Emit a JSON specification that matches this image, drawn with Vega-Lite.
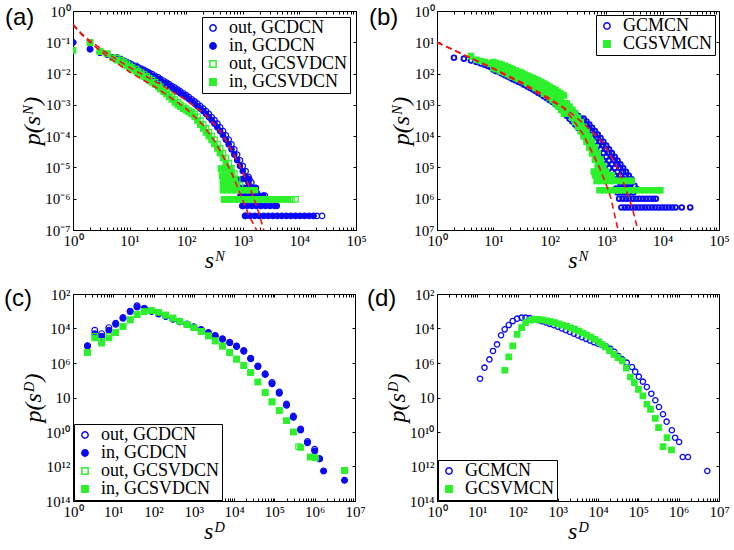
{
"$schema": "https://vega.github.io/schema/vega-lite/v6.json",
"background": "white",
"padding": {"left": 3, "top": 3, "right": 3, "bottom": 3},
"config": {
  "font": "Liberation Serif, Times New Roman, serif",
  "view": {"stroke": "black", "strokeWidth": 1},
  "axis": {"domainColor": "black", "tickColor": "black", "labelColor": "black", "titleColor": "black", "grid": false,
           "labelFont": "Liberation Serif, Times New Roman, serif", "labelFontSize": 15,
           "titleFont": "Liberation Serif, Times New Roman, serif", "titleFontSize": 24,
           "titleFontStyle": "italic", "titleFontWeight": "normal", "tickSize": -3, "labelPadding": 6,
           "labelOverlap": false, "labelFlush": false, "labelBound": false, "titlePadding": 0},
  "title": {"font": "Liberation Sans, Arial, sans-serif", "fontSize": 24, "fontWeight": "normal", "anchor": "start", "frame": "group", "color": "black"},
  "legend": {"title": null, "strokeColor": "black", "fillColor": "white", "padding": 2, "rowPadding": -1,
             "labelFont": "Liberation Serif, Times New Roman, serif", "labelFontSize": 18, "symbolSize": 40, "symbolStrokeWidth": 1.5,
             "labelOffset": 7, "labelLimit": 300, "cornerRadius": 0}
},
"datasets": {
"a": [
{"s":1,"p":0.1,"g":"out, GCDCN"},{"s":2,"p":0.06,"g":"out, GCDCN"},{"s":3,"p":0.047,"g":"out, GCDCN"},{"s":4,"p":0.041,"g":"out, GCDCN"},
{"s":6,"p":3.31e-2,"g":"out, GCDCN"},{"s":7,"p":2.88e-2,"g":"out, GCDCN"},{"s":8,"p":2.57e-2,"g":"out, GCDCN"},{"s":9,"p":2.34e-2,"g":"out, GCDCN"},{"s":10,"p":2.14e-2,"g":"out, GCDCN"},{"s":11,"p":1.95e-2,"g":"out, GCDCN"},{"s":13,"p":1.78e-2,"g":"out, GCDCN"},{"s":14,"p":1.62e-2,"g":"out, GCDCN"},{"s":16,"p":1.45e-2,"g":"out, GCDCN"},{"s":18,"p":1.32e-2,"g":"out, GCDCN"},{"s":20,"p":1.18e-2,"g":"out, GCDCN"},{"s":22,"p":1.07e-2,"g":"out, GCDCN"},{"s":25,"p":9.55e-3,"g":"out, GCDCN"},{"s":28,"p":8.51e-3,"g":"out, GCDCN"},{"s":32,"p":7.59e-3,"g":"out, GCDCN"},{"s":35,"p":6.61e-3,"g":"out, GCDCN"},{"s":40,"p":5.89e-3,"g":"out, GCDCN"},{"s":45,"p":5.13e-3,"g":"out, GCDCN"},{"s":50,"p":4.57e-3,"g":"out, GCDCN"},{"s":56,"p":3.98e-3,"g":"out, GCDCN"},{"s":63,"p":3.55e-3,"g":"out, GCDCN"},{"s":71,"p":3.09e-3,"g":"out, GCDCN"},{"s":79,"p":2.69e-3,"g":"out, GCDCN"},{"s":89,"p":2.34e-3,"g":"out, GCDCN"},{"s":100,"p":2.04e-3,"g":"out, GCDCN"},{"s":112,"p":1.78e-3,"g":"out, GCDCN"},{"s":126,"p":1.51e-3,"g":"out, GCDCN"},{"s":141,"p":1.29e-3,"g":"out, GCDCN"},{"s":158,"p":1.10e-3,"g":"out, GCDCN"},{"s":178,"p":9.12e-4,"g":"out, GCDCN"},{"s":200,"p":7.59e-4,"g":"out, GCDCN"},{"s":224,"p":6.31e-4,"g":"out, GCDCN"},{"s":251,"p":5.13e-4,"g":"out, GCDCN"},{"s":282,"p":4.07e-4,"g":"out, GCDCN"},{"s":316,"p":3.24e-4,"g":"out, GCDCN"},{"s":355,"p":2.51e-4,"g":"out, GCDCN"},{"s":398,"p":1.91e-4,"g":"out, GCDCN"},{"s":447,"p":1.45e-4,"g":"out, GCDCN"},{"s":501,"p":1.07e-4,"g":"out, GCDCN"},{"s":562,"p":7.76e-5,"g":"out, GCDCN"},{"s":631,"p":5.50e-5,"g":"out, GCDCN"},{"s":708,"p":3.80e-5,"g":"out, GCDCN"},{"s":794,"p":2.57e-5,"g":"out, GCDCN"},{"s":891,"p":1.70e-5,"g":"out, GCDCN"},{"s":1000,"p":1.12e-5,"g":"out, GCDCN"},{"s":1122,"p":7.59e-6,"g":"out, GCDCN"},{"s":1259,"p":5.01e-6,"g":"out, GCDCN"},{"s":1413,"p":3.31e-6,"g":"out, GCDCN"},{"s":1585,"p":2.24e-6,"g":"out, GCDCN"},{"s":1778,"p":1.51e-6,"g":"out, GCDCN"},
{"s":980,"p":5.89e-7,"g":"out, GCDCN"},{"s":1096,"p":2.82e-7,"g":"out, GCDCN"},{"s":2455,"p":1.26e-6,"g":"out, GCDCN"},{"s":20417,"p":2.82e-7,"g":"out, GCDCN"},{"s":25119,"p":2.82e-7,"g":"out, GCDCN"},
{"s":1,"p":0.1,"g":"in, GCDCN"},{"s":2,"p":0.06,"g":"in, GCDCN"},{"s":3,"p":0.047,"g":"in, GCDCN"},{"s":4,"p":0.041,"g":"in, GCDCN"},
{"s":5,"p":3.31e-2,"g":"in, GCDCN"},{"s":6,"p":2.88e-2,"g":"in, GCDCN"},{"s":7,"p":2.57e-2,"g":"in, GCDCN"},{"s":8,"p":2.34e-2,"g":"in, GCDCN"},{"s":9,"p":2.14e-2,"g":"in, GCDCN"},{"s":10,"p":1.95e-2,"g":"in, GCDCN"},{"s":11,"p":1.78e-2,"g":"in, GCDCN"},{"s":13,"p":1.62e-2,"g":"in, GCDCN"},{"s":14,"p":1.45e-2,"g":"in, GCDCN"},{"s":16,"p":1.32e-2,"g":"in, GCDCN"},{"s":18,"p":1.18e-2,"g":"in, GCDCN"},{"s":20,"p":1.07e-2,"g":"in, GCDCN"},{"s":22,"p":9.55e-3,"g":"in, GCDCN"},{"s":25,"p":8.51e-3,"g":"in, GCDCN"},{"s":28,"p":7.59e-3,"g":"in, GCDCN"},{"s":32,"p":6.61e-3,"g":"in, GCDCN"},{"s":35,"p":5.89e-3,"g":"in, GCDCN"},{"s":40,"p":5.13e-3,"g":"in, GCDCN"},{"s":45,"p":4.57e-3,"g":"in, GCDCN"},{"s":50,"p":3.98e-3,"g":"in, GCDCN"},{"s":56,"p":3.55e-3,"g":"in, GCDCN"},{"s":63,"p":3.09e-3,"g":"in, GCDCN"},{"s":71,"p":2.69e-3,"g":"in, GCDCN"},{"s":79,"p":2.34e-3,"g":"in, GCDCN"},{"s":89,"p":2.04e-3,"g":"in, GCDCN"},{"s":100,"p":1.78e-3,"g":"in, GCDCN"},{"s":112,"p":1.51e-3,"g":"in, GCDCN"},{"s":126,"p":1.29e-3,"g":"in, GCDCN"},{"s":141,"p":1.10e-3,"g":"in, GCDCN"},{"s":158,"p":9.12e-4,"g":"in, GCDCN"},{"s":178,"p":7.59e-4,"g":"in, GCDCN"},{"s":200,"p":6.31e-4,"g":"in, GCDCN"},{"s":224,"p":5.13e-4,"g":"in, GCDCN"},{"s":251,"p":4.07e-4,"g":"in, GCDCN"},{"s":282,"p":3.24e-4,"g":"in, GCDCN"},{"s":316,"p":2.51e-4,"g":"in, GCDCN"},{"s":355,"p":1.91e-4,"g":"in, GCDCN"},{"s":398,"p":1.45e-4,"g":"in, GCDCN"},{"s":447,"p":1.07e-4,"g":"in, GCDCN"},{"s":501,"p":7.76e-5,"g":"in, GCDCN"},{"s":562,"p":5.50e-5,"g":"in, GCDCN"},{"s":631,"p":3.80e-5,"g":"in, GCDCN"},{"s":708,"p":2.57e-5,"g":"in, GCDCN"},{"s":794,"p":1.70e-5,"g":"in, GCDCN"},{"s":891,"p":1.12e-5,"g":"in, GCDCN"},{"s":1000,"p":7.59e-6,"g":"in, GCDCN"},{"s":1122,"p":5.01e-6,"g":"in, GCDCN"},{"s":1259,"p":3.31e-6,"g":"in, GCDCN"},{"s":1413,"p":2.24e-6,"g":"in, GCDCN"},{"s":1585,"p":1.51e-6,"g":"in, GCDCN"},
{"s":800,"p":4.27e-6,"g":"in, GCDCN"},{"s":920,"p":4.27e-6,"g":"in, GCDCN"},{"s":1050,"p":4.27e-6,"g":"in, GCDCN"},{"s":1180,"p":4.27e-6,"g":"in, GCDCN"},{"s":1300,"p":4.27e-6,"g":"in, GCDCN"},
{"s":900,"p":2.24e-6,"g":"in, GCDCN"},{"s":1050,"p":2.24e-6,"g":"in, GCDCN"},{"s":1200,"p":2.24e-6,"g":"in, GCDCN"},{"s":1350,"p":2.24e-6,"g":"in, GCDCN"},{"s":1500,"p":2.24e-6,"g":"in, GCDCN"},{"s":1700,"p":2.24e-6,"g":"in, GCDCN"},
{"s":912,"p":1.26e-6,"g":"in, GCDCN"},{"s":1096,"p":1.26e-6,"g":"in, GCDCN"},{"s":1318,"p":1.26e-6,"g":"in, GCDCN"},{"s":1585,"p":1.26e-6,"g":"in, GCDCN"},{"s":1905,"p":1.26e-6,"g":"in, GCDCN"},{"s":2291,"p":1.26e-6,"g":"in, GCDCN"},
{"s":1000,"p":5.89e-7,"g":"in, GCDCN"},{"s":1202,"p":5.89e-7,"g":"in, GCDCN"},{"s":1445,"p":5.89e-7,"g":"in, GCDCN"},{"s":1738,"p":5.89e-7,"g":"in, GCDCN"},{"s":2089,"p":5.89e-7,"g":"in, GCDCN"},{"s":2512,"p":5.89e-7,"g":"in, GCDCN"},{"s":3020,"p":5.89e-7,"g":"in, GCDCN"},{"s":3631,"p":5.89e-7,"g":"in, GCDCN"},{"s":3981,"p":5.89e-7,"g":"in, GCDCN"},
{"s":1122,"p":2.82e-7,"g":"in, GCDCN"},{"s":1349,"p":2.82e-7,"g":"in, GCDCN"},{"s":1622,"p":2.82e-7,"g":"in, GCDCN"},{"s":1950,"p":2.82e-7,"g":"in, GCDCN"},{"s":2344,"p":2.82e-7,"g":"in, GCDCN"},{"s":2818,"p":2.82e-7,"g":"in, GCDCN"},{"s":3388,"p":2.82e-7,"g":"in, GCDCN"},{"s":4074,"p":2.82e-7,"g":"in, GCDCN"},{"s":4898,"p":2.82e-7,"g":"in, GCDCN"},{"s":5888,"p":2.82e-7,"g":"in, GCDCN"},{"s":7079,"p":2.82e-7,"g":"in, GCDCN"},{"s":8511,"p":2.82e-7,"g":"in, GCDCN"},{"s":10233,"p":2.82e-7,"g":"in, GCDCN"},{"s":12303,"p":2.82e-7,"g":"in, GCDCN"},{"s":14791,"p":2.82e-7,"g":"in, GCDCN"},{"s":17783,"p":2.82e-7,"g":"in, GCDCN"},
{"s":2,"p":0.097,"g":"out, GCSVDCN"},{"s":3,"p":0.05,"g":"out, GCSVDCN"},{"s":4,"p":0.043,"g":"out, GCSVDCN"},
{"s":6,"p":3.16e-2,"g":"out, GCSVDCN"},{"s":7,"p":2.69e-2,"g":"out, GCSVDCN"},{"s":8,"p":2.34e-2,"g":"out, GCSVDCN"},{"s":9,"p":2.04e-2,"g":"out, GCSVDCN"},{"s":10,"p":1.78e-2,"g":"out, GCSVDCN"},{"s":11,"p":1.58e-2,"g":"out, GCSVDCN"},{"s":13,"p":1.38e-2,"g":"out, GCSVDCN"},{"s":14,"p":1.20e-2,"g":"out, GCSVDCN"},{"s":16,"p":1.07e-2,"g":"out, GCSVDCN"},{"s":18,"p":9.33e-3,"g":"out, GCSVDCN"},{"s":20,"p":8.13e-3,"g":"out, GCSVDCN"},{"s":22,"p":7.08e-3,"g":"out, GCSVDCN"},{"s":25,"p":6.17e-3,"g":"out, GCSVDCN"},{"s":28,"p":5.25e-3,"g":"out, GCSVDCN"},{"s":32,"p":4.47e-3,"g":"out, GCSVDCN"},{"s":35,"p":3.80e-3,"g":"out, GCSVDCN"},{"s":40,"p":3.16e-3,"g":"out, GCSVDCN"},{"s":45,"p":2.63e-3,"g":"out, GCSVDCN"},{"s":50,"p":2.19e-3,"g":"out, GCSVDCN"},{"s":56,"p":1.78e-3,"g":"out, GCSVDCN"},{"s":63,"p":1.48e-3,"g":"out, GCSVDCN"},{"s":71,"p":1.20e-3,"g":"out, GCSVDCN"},{"s":79,"p":1.00e-3,"g":"out, GCSVDCN"},{"s":89,"p":8.71e-4,"g":"out, GCSVDCN"},{"s":100,"p":7.59e-4,"g":"out, GCSVDCN"},{"s":112,"p":6.61e-4,"g":"out, GCSVDCN"},{"s":126,"p":5.89e-4,"g":"out, GCSVDCN"},{"s":141,"p":5.13e-4,"g":"out, GCSVDCN"},{"s":158,"p":4.17e-4,"g":"out, GCSVDCN"},{"s":178,"p":3.16e-4,"g":"out, GCSVDCN"},{"s":200,"p":2.34e-4,"g":"out, GCSVDCN"},{"s":224,"p":1.78e-4,"g":"out, GCSVDCN"},{"s":251,"p":1.32e-4,"g":"out, GCSVDCN"},{"s":282,"p":1.00e-4,"g":"out, GCSVDCN"},{"s":316,"p":7.59e-5,"g":"out, GCSVDCN"},{"s":355,"p":5.62e-5,"g":"out, GCSVDCN"},{"s":398,"p":4.07e-5,"g":"out, GCSVDCN"},{"s":447,"p":2.88e-5,"g":"out, GCSVDCN"},{"s":501,"p":2.00e-5,"g":"out, GCSVDCN"},{"s":562,"p":1.38e-5,"g":"out, GCSVDCN"},{"s":631,"p":9.33e-6,"g":"out, GCSVDCN"},{"s":708,"p":6.31e-6,"g":"out, GCSVDCN"},{"s":794,"p":4.17e-6,"g":"out, GCSVDCN"},{"s":891,"p":2.75e-6,"g":"out, GCSVDCN"},
{"s":468,"p":9.55e-7,"g":"out, GCSVDCN"},{"s":7244,"p":9.55e-7,"g":"out, GCSVDCN"},{"s":8511,"p":9.55e-7,"g":"out, GCSVDCN"},
{"s":1,"p":0.055,"g":"in, GCSVDCN"},{"s":2,"p":0.097,"g":"in, GCSVDCN"},{"s":3,"p":0.05,"g":"in, GCSVDCN"},{"s":4,"p":0.043,"g":"in, GCSVDCN"},
{"s":5,"p":3.16e-2,"g":"in, GCSVDCN"},{"s":6,"p":2.69e-2,"g":"in, GCSVDCN"},{"s":7,"p":2.34e-2,"g":"in, GCSVDCN"},{"s":8,"p":2.04e-2,"g":"in, GCSVDCN"},{"s":9,"p":1.78e-2,"g":"in, GCSVDCN"},{"s":10,"p":1.58e-2,"g":"in, GCSVDCN"},{"s":11,"p":1.38e-2,"g":"in, GCSVDCN"},{"s":13,"p":1.20e-2,"g":"in, GCSVDCN"},{"s":14,"p":1.07e-2,"g":"in, GCSVDCN"},{"s":16,"p":9.33e-3,"g":"in, GCSVDCN"},{"s":18,"p":8.13e-3,"g":"in, GCSVDCN"},{"s":20,"p":7.08e-3,"g":"in, GCSVDCN"},{"s":22,"p":6.17e-3,"g":"in, GCSVDCN"},{"s":25,"p":5.25e-3,"g":"in, GCSVDCN"},{"s":28,"p":4.47e-3,"g":"in, GCSVDCN"},{"s":32,"p":3.80e-3,"g":"in, GCSVDCN"},{"s":35,"p":3.16e-3,"g":"in, GCSVDCN"},{"s":40,"p":2.63e-3,"g":"in, GCSVDCN"},{"s":45,"p":2.19e-3,"g":"in, GCSVDCN"},{"s":50,"p":1.78e-3,"g":"in, GCSVDCN"},{"s":56,"p":1.48e-3,"g":"in, GCSVDCN"},{"s":63,"p":1.20e-3,"g":"in, GCSVDCN"},{"s":71,"p":1.00e-3,"g":"in, GCSVDCN"},{"s":79,"p":8.71e-4,"g":"in, GCSVDCN"},{"s":89,"p":7.59e-4,"g":"in, GCSVDCN"},{"s":100,"p":6.61e-4,"g":"in, GCSVDCN"},{"s":112,"p":5.89e-4,"g":"in, GCSVDCN"},{"s":126,"p":5.13e-4,"g":"in, GCSVDCN"},{"s":141,"p":4.17e-4,"g":"in, GCSVDCN"},{"s":158,"p":3.16e-4,"g":"in, GCSVDCN"},{"s":178,"p":2.34e-4,"g":"in, GCSVDCN"},{"s":200,"p":1.78e-4,"g":"in, GCSVDCN"},{"s":224,"p":1.32e-4,"g":"in, GCSVDCN"},{"s":251,"p":1.00e-4,"g":"in, GCSVDCN"},{"s":282,"p":7.59e-5,"g":"in, GCSVDCN"},{"s":316,"p":5.62e-5,"g":"in, GCSVDCN"},{"s":355,"p":4.07e-5,"g":"in, GCSVDCN"},{"s":398,"p":2.88e-5,"g":"in, GCSVDCN"},{"s":447,"p":2.00e-5,"g":"in, GCSVDCN"},{"s":501,"p":1.38e-5,"g":"in, GCSVDCN"},{"s":562,"p":9.33e-6,"g":"in, GCSVDCN"},{"s":631,"p":6.31e-6,"g":"in, GCSVDCN"},{"s":708,"p":4.17e-6,"g":"in, GCSVDCN"},{"s":794,"p":2.75e-6,"g":"in, GCSVDCN"},
{"s":410,"p":9.1e-6,"g":"in, GCSVDCN"},{"s":470,"p":9.1e-6,"g":"in, GCSVDCN"},{"s":540,"p":9.1e-6,"g":"in, GCSVDCN"},{"s":600,"p":9.1e-6,"g":"in, GCSVDCN"},
{"s":430,"p":5.5e-6,"g":"in, GCSVDCN"},{"s":500,"p":5.5e-6,"g":"in, GCSVDCN"},{"s":580,"p":5.5e-6,"g":"in, GCSVDCN"},{"s":650,"p":5.5e-6,"g":"in, GCSVDCN"},
{"s":447,"p":3.63e-6,"g":"in, GCSVDCN"},{"s":525,"p":3.63e-6,"g":"in, GCSVDCN"},{"s":617,"p":3.63e-6,"g":"in, GCSVDCN"},{"s":725,"p":3.63e-6,"g":"in, GCSVDCN"},
{"s":447,"p":2.82e-6,"g":"in, GCSVDCN"},{"s":525,"p":2.82e-6,"g":"in, GCSVDCN"},{"s":617,"p":2.82e-6,"g":"in, GCSVDCN"},{"s":725,"p":2.82e-6,"g":"in, GCSVDCN"},
{"s":447,"p":1.86e-6,"g":"in, GCSVDCN"},{"s":537,"p":1.86e-6,"g":"in, GCSVDCN"},{"s":646,"p":1.86e-6,"g":"in, GCSVDCN"},{"s":776,"p":1.86e-6,"g":"in, GCSVDCN"},{"s":933,"p":1.86e-6,"g":"in, GCSVDCN"},{"s":1122,"p":1.86e-6,"g":"in, GCSVDCN"},{"s":1349,"p":1.86e-6,"g":"in, GCSVDCN"},{"s":1622,"p":1.86e-6,"g":"in, GCSVDCN"},
{"s":479,"p":9.55e-7,"g":"in, GCSVDCN"},{"s":575,"p":9.55e-7,"g":"in, GCSVDCN"},{"s":692,"p":9.55e-7,"g":"in, GCSVDCN"},{"s":832,"p":9.55e-7,"g":"in, GCSVDCN"},{"s":1000,"p":9.55e-7,"g":"in, GCSVDCN"},{"s":1202,"p":9.55e-7,"g":"in, GCSVDCN"},{"s":1445,"p":9.55e-7,"g":"in, GCSVDCN"},{"s":1738,"p":9.55e-7,"g":"in, GCSVDCN"},{"s":2089,"p":9.55e-7,"g":"in, GCSVDCN"},{"s":2512,"p":9.55e-7,"g":"in, GCSVDCN"},{"s":3020,"p":9.55e-7,"g":"in, GCSVDCN"},{"s":3631,"p":9.55e-7,"g":"in, GCSVDCN"},{"s":4365,"p":9.55e-7,"g":"in, GCSVDCN"},{"s":5248,"p":9.55e-7,"g":"in, GCSVDCN"},{"s":6310,"p":9.55e-7,"g":"in, GCSVDCN"}
],
"fa": [
{"s":1,"p":0.38,"f":"GCDCN"},{"s":1.41,"p":0.19,"f":"GCDCN"},{"s":2,"p":0.112,"f":"GCDCN"},{"s":3.98,"p":0.0447,"f":"GCDCN"},{"s":10,"p":0.0158,"f":"GCDCN"},{"s":31.6,"p":5.01e-3,"f":"GCDCN"},{"s":100,"p":1.41e-3,"f":"GCDCN"},{"s":200,"p":5.62e-4,"f":"GCDCN"},{"s":316,"p":2.40e-4,"f":"GCDCN"},{"s":398,"p":1.41e-4,"f":"GCDCN"},{"s":501,"p":7.59e-5,"f":"GCDCN"},{"s":631,"p":3.6e-5,"f":"GCDCN"},{"s":794,"p":1.66e-5,"f":"GCDCN"},{"s":1000,"p":7.08e-6,"f":"GCDCN"},{"s":1259,"p":2.82e-6,"f":"GCDCN"},{"s":1585,"p":1.0e-6,"f":"GCDCN"},{"s":1995,"p":2.82e-7,"f":"GCDCN"},{"s":2344,"p":1.0e-7,"f":"GCDCN"},{"s":2512,"p":6.3e-8,"f":"GCDCN"},
{"s":1,"p":0.355,"f":"GCSVDCN"},{"s":1.41,"p":0.178,"f":"GCSVDCN"},{"s":2,"p":0.1,"f":"GCSVDCN"},{"s":3.98,"p":0.0355,"f":"GCSVDCN"},{"s":10,"p":0.0112,"f":"GCSVDCN"},{"s":31.6,"p":3.31e-3,"f":"GCSVDCN"},{"s":100,"p":7.59e-4,"f":"GCSVDCN"},{"s":200,"p":2.24e-4,"f":"GCSVDCN"},{"s":316,"p":7.08e-5,"f":"GCSVDCN"},{"s":398,"p":3.4e-5,"f":"GCSVDCN"},{"s":501,"p":1.58e-5,"f":"GCSVDCN"},{"s":631,"p":6.8e-6,"f":"GCSVDCN"},{"s":794,"p":2.51e-6,"f":"GCSVDCN"},{"s":1000,"p":8.91e-7,"f":"GCSVDCN"},{"s":1259,"p":3.16e-7,"f":"GCSVDCN"},{"s":1585,"p":1.41e-7,"f":"GCSVDCN"},{"s":1995,"p":6.3e-8,"f":"GCSVDCN"}
],
"b": [
{"s":2,"p":3.2e-2,"g":"GCMCN"},{"s":3,"p":3.0e-2,"g":"GCMCN"},{"s":4,"p":2.6e-2,"g":"GCMCN"},
{"s":5,"p":2.34e-2,"g":"GCMCN"},{"s":6,"p":2.09e-2,"g":"GCMCN"},{"s":7,"p":1.91e-2,"g":"GCMCN"},{"s":8,"p":1.74e-2,"g":"GCMCN"},{"s":9,"p":1.58e-2,"g":"GCMCN"},{"s":10,"p":1.45e-2,"g":"GCMCN"},{"s":11,"p":1.32e-2,"g":"GCMCN"},{"s":13,"p":1.20e-2,"g":"GCMCN"},{"s":14,"p":1.10e-2,"g":"GCMCN"},{"s":16,"p":1.00e-2,"g":"GCMCN"},{"s":18,"p":8.91e-3,"g":"GCMCN"},{"s":20,"p":8.13e-3,"g":"GCMCN"},{"s":22,"p":7.41e-3,"g":"GCMCN"},{"s":25,"p":6.61e-3,"g":"GCMCN"},{"s":28,"p":6.03e-3,"g":"GCMCN"},{"s":32,"p":5.37e-3,"g":"GCMCN"},{"s":35,"p":4.90e-3,"g":"GCMCN"},{"s":40,"p":4.37e-3,"g":"GCMCN"},{"s":45,"p":3.89e-3,"g":"GCMCN"},{"s":50,"p":3.47e-3,"g":"GCMCN"},{"s":56,"p":3.09e-3,"g":"GCMCN"},{"s":63,"p":2.75e-3,"g":"GCMCN"},{"s":71,"p":2.40e-3,"g":"GCMCN"},{"s":79,"p":2.14e-3,"g":"GCMCN"},{"s":89,"p":1.86e-3,"g":"GCMCN"},{"s":100,"p":1.62e-3,"g":"GCMCN"},{"s":112,"p":1.41e-3,"g":"GCMCN"},{"s":126,"p":1.23e-3,"g":"GCMCN"},{"s":141,"p":1.05e-3,"g":"GCMCN"},{"s":158,"p":8.91e-4,"g":"GCMCN"},{"s":178,"p":7.59e-4,"g":"GCMCN"},{"s":200,"p":6.46e-4,"g":"GCMCN"},{"s":224,"p":5.37e-4,"g":"GCMCN"},{"s":251,"p":4.47e-4,"g":"GCMCN"},{"s":282,"p":3.63e-4,"g":"GCMCN"},{"s":316,"p":2.95e-4,"g":"GCMCN"},{"s":355,"p":2.34e-4,"g":"GCMCN"},{"s":398,"p":1.86e-4,"g":"GCMCN"},{"s":447,"p":1.45e-4,"g":"GCMCN"},{"s":501,"p":1.12e-4,"g":"GCMCN"},{"s":562,"p":8.71e-5,"g":"GCMCN"},{"s":631,"p":6.61e-5,"g":"GCMCN"},{"s":708,"p":5.01e-5,"g":"GCMCN"},{"s":794,"p":3.80e-5,"g":"GCMCN"},{"s":891,"p":2.88e-5,"g":"GCMCN"},{"s":1000,"p":2.19e-5,"g":"GCMCN"},{"s":1122,"p":1.66e-5,"g":"GCMCN"},{"s":1259,"p":1.26e-5,"g":"GCMCN"},{"s":1413,"p":9.55e-6,"g":"GCMCN"},{"s":1585,"p":7.24e-6,"g":"GCMCN"},{"s":1778,"p":5.50e-6,"g":"GCMCN"},{"s":1995,"p":4.17e-6,"g":"GCMCN"},{"s":2239,"p":3.16e-6,"g":"GCMCN"},{"s":2512,"p":2.40e-6,"g":"GCMCN"},{"s":2818,"p":1.82e-6,"g":"GCMCN"},
{"s":10,"p":1.58e-2,"g":"GCMCN"},{"s":11,"p":1.45e-2,"g":"GCMCN"},{"s":13,"p":1.32e-2,"g":"GCMCN"},{"s":14,"p":1.20e-2,"g":"GCMCN"},{"s":16,"p":1.10e-2,"g":"GCMCN"},{"s":18,"p":1.00e-2,"g":"GCMCN"},{"s":20,"p":8.91e-3,"g":"GCMCN"},{"s":22,"p":8.13e-3,"g":"GCMCN"},{"s":25,"p":7.41e-3,"g":"GCMCN"},{"s":28,"p":6.61e-3,"g":"GCMCN"},{"s":32,"p":6.03e-3,"g":"GCMCN"},{"s":35,"p":5.37e-3,"g":"GCMCN"},{"s":40,"p":4.90e-3,"g":"GCMCN"},{"s":45,"p":4.37e-3,"g":"GCMCN"},{"s":50,"p":3.89e-3,"g":"GCMCN"},{"s":56,"p":3.47e-3,"g":"GCMCN"},{"s":63,"p":3.09e-3,"g":"GCMCN"},{"s":71,"p":2.75e-3,"g":"GCMCN"},{"s":79,"p":2.40e-3,"g":"GCMCN"},{"s":89,"p":2.14e-3,"g":"GCMCN"},{"s":100,"p":1.86e-3,"g":"GCMCN"},{"s":112,"p":1.62e-3,"g":"GCMCN"},{"s":126,"p":1.41e-3,"g":"GCMCN"},{"s":141,"p":1.23e-3,"g":"GCMCN"},{"s":158,"p":1.05e-3,"g":"GCMCN"},{"s":178,"p":8.91e-4,"g":"GCMCN"},
{"s":10,"p":1.32e-2,"g":"GCMCN"},{"s":11,"p":1.20e-2,"g":"GCMCN"},{"s":13,"p":1.10e-2,"g":"GCMCN"},{"s":14,"p":1.00e-2,"g":"GCMCN"},{"s":16,"p":8.91e-3,"g":"GCMCN"},{"s":18,"p":8.13e-3,"g":"GCMCN"},{"s":20,"p":7.41e-3,"g":"GCMCN"},{"s":22,"p":6.61e-3,"g":"GCMCN"},{"s":25,"p":6.03e-3,"g":"GCMCN"},{"s":28,"p":5.37e-3,"g":"GCMCN"},{"s":32,"p":4.90e-3,"g":"GCMCN"},{"s":35,"p":4.37e-3,"g":"GCMCN"},{"s":40,"p":3.89e-3,"g":"GCMCN"},{"s":45,"p":3.47e-3,"g":"GCMCN"},{"s":50,"p":3.09e-3,"g":"GCMCN"},{"s":56,"p":2.75e-3,"g":"GCMCN"},{"s":63,"p":2.40e-3,"g":"GCMCN"},{"s":71,"p":2.14e-3,"g":"GCMCN"},{"s":79,"p":1.86e-3,"g":"GCMCN"},{"s":89,"p":1.62e-3,"g":"GCMCN"},{"s":100,"p":1.41e-3,"g":"GCMCN"},{"s":112,"p":1.23e-3,"g":"GCMCN"},{"s":126,"p":1.05e-3,"g":"GCMCN"},{"s":141,"p":8.91e-4,"g":"GCMCN"},{"s":158,"p":7.59e-4,"g":"GCMCN"},{"s":178,"p":6.46e-4,"g":"GCMCN"},
{"s":200,"p":8.91e-4,"g":"GCMCN"},{"s":224,"p":7.59e-4,"g":"GCMCN"},{"s":251,"p":6.46e-4,"g":"GCMCN"},{"s":282,"p":5.37e-4,"g":"GCMCN"},{"s":316,"p":4.47e-4,"g":"GCMCN"},{"s":355,"p":3.63e-4,"g":"GCMCN"},{"s":398,"p":2.95e-4,"g":"GCMCN"},{"s":447,"p":2.34e-4,"g":"GCMCN"},{"s":501,"p":1.86e-4,"g":"GCMCN"},{"s":562,"p":1.45e-4,"g":"GCMCN"},{"s":631,"p":1.12e-4,"g":"GCMCN"},{"s":708,"p":8.71e-5,"g":"GCMCN"},{"s":794,"p":6.61e-5,"g":"GCMCN"},{"s":891,"p":5.01e-5,"g":"GCMCN"},{"s":1000,"p":3.80e-5,"g":"GCMCN"},{"s":1122,"p":2.88e-5,"g":"GCMCN"},{"s":1259,"p":2.19e-5,"g":"GCMCN"},{"s":1413,"p":1.66e-5,"g":"GCMCN"},{"s":1585,"p":1.26e-5,"g":"GCMCN"},{"s":1778,"p":9.55e-6,"g":"GCMCN"},{"s":1995,"p":7.24e-6,"g":"GCMCN"},{"s":2239,"p":5.50e-6,"g":"GCMCN"},{"s":2512,"p":4.17e-6,"g":"GCMCN"},{"s":2818,"p":3.16e-6,"g":"GCMCN"},
{"s":398,"p":3.63e-4,"g":"GCMCN"},{"s":447,"p":2.95e-4,"g":"GCMCN"},{"s":501,"p":2.34e-4,"g":"GCMCN"},{"s":562,"p":1.86e-4,"g":"GCMCN"},{"s":631,"p":1.45e-4,"g":"GCMCN"},{"s":708,"p":1.12e-4,"g":"GCMCN"},{"s":794,"p":8.71e-5,"g":"GCMCN"},{"s":891,"p":6.61e-5,"g":"GCMCN"},{"s":1000,"p":5.01e-5,"g":"GCMCN"},{"s":1122,"p":3.80e-5,"g":"GCMCN"},{"s":1259,"p":2.88e-5,"g":"GCMCN"},{"s":1413,"p":2.19e-5,"g":"GCMCN"},{"s":1585,"p":1.66e-5,"g":"GCMCN"},{"s":1778,"p":1.26e-5,"g":"GCMCN"},{"s":1995,"p":9.55e-6,"g":"GCMCN"},{"s":2239,"p":7.24e-6,"g":"GCMCN"},{"s":2512,"p":5.50e-6,"g":"GCMCN"},{"s":2818,"p":4.17e-6,"g":"GCMCN"},{"s":3162,"p":2.6e-6,"g":"GCMCN"},{"s":3548,"p":2.0e-6,"g":"GCMCN"},
{"s":200,"p":4.47e-4,"g":"GCMCN"},{"s":224,"p":3.63e-4,"g":"GCMCN"},{"s":251,"p":2.95e-4,"g":"GCMCN"},{"s":282,"p":2.34e-4,"g":"GCMCN"},{"s":316,"p":1.86e-4,"g":"GCMCN"},{"s":355,"p":1.45e-4,"g":"GCMCN"},{"s":398,"p":1.12e-4,"g":"GCMCN"},{"s":447,"p":8.71e-5,"g":"GCMCN"},{"s":501,"p":6.61e-5,"g":"GCMCN"},{"s":562,"p":5.01e-5,"g":"GCMCN"},{"s":631,"p":3.80e-5,"g":"GCMCN"},{"s":708,"p":2.88e-5,"g":"GCMCN"},{"s":794,"p":2.19e-5,"g":"GCMCN"},{"s":891,"p":1.66e-5,"g":"GCMCN"},{"s":1000,"p":1.26e-5,"g":"GCMCN"},{"s":1122,"p":9.55e-6,"g":"GCMCN"},{"s":1259,"p":7.24e-6,"g":"GCMCN"},{"s":1413,"p":5.50e-6,"g":"GCMCN"},{"s":1585,"p":4.17e-6,"g":"GCMCN"},{"s":1778,"p":3.16e-6,"g":"GCMCN"},{"s":1995,"p":2.40e-6,"g":"GCMCN"},{"s":2239,"p":1.82e-6,"g":"GCMCN"},
{"s":1500,"p":2.1e-6,"g":"GCMCN"},{"s":1778,"p":2.1e-6,"g":"GCMCN"},{"s":2089,"p":2.1e-6,"g":"GCMCN"},{"s":2455,"p":2.1e-6,"g":"GCMCN"},
{"s":1585,"p":1.58e-6,"g":"GCMCN"},{"s":1862,"p":1.58e-6,"g":"GCMCN"},{"s":2188,"p":1.58e-6,"g":"GCMCN"},{"s":2570,"p":1.58e-6,"g":"GCMCN"},{"s":3020,"p":1.58e-6,"g":"GCMCN"},
{"s":1698,"p":1.0e-6,"g":"GCMCN"},{"s":1950,"p":1.0e-6,"g":"GCMCN"},{"s":2239,"p":1.0e-6,"g":"GCMCN"},{"s":2570,"p":1.0e-6,"g":"GCMCN"},{"s":2951,"p":1.0e-6,"g":"GCMCN"},{"s":3388,"p":1.0e-6,"g":"GCMCN"},{"s":3890,"p":1.0e-6,"g":"GCMCN"},{"s":4467,"p":1.0e-6,"g":"GCMCN"},{"s":5129,"p":1.0e-6,"g":"GCMCN"},{"s":5888,"p":1.0e-6,"g":"GCMCN"},{"s":6761,"p":1.0e-6,"g":"GCMCN"},{"s":7586,"p":1.0e-6,"g":"GCMCN"},
{"s":1862,"p":5.25e-7,"g":"GCMCN"},{"s":2138,"p":5.25e-7,"g":"GCMCN"},{"s":2455,"p":5.25e-7,"g":"GCMCN"},{"s":2818,"p":5.25e-7,"g":"GCMCN"},{"s":3236,"p":5.25e-7,"g":"GCMCN"},{"s":3715,"p":5.25e-7,"g":"GCMCN"},{"s":4266,"p":5.25e-7,"g":"GCMCN"},{"s":4898,"p":5.25e-7,"g":"GCMCN"},{"s":5623,"p":5.25e-7,"g":"GCMCN"},{"s":6457,"p":5.25e-7,"g":"GCMCN"},{"s":7413,"p":5.25e-7,"g":"GCMCN"},{"s":8511,"p":5.25e-7,"g":"GCMCN"},{"s":9772,"p":5.25e-7,"g":"GCMCN"},{"s":11220,"p":5.25e-7,"g":"GCMCN"},{"s":12880,"p":5.25e-7,"g":"GCMCN"},{"s":14790,"p":5.25e-7,"g":"GCMCN"},{"s":16980,"p":5.25e-7,"g":"GCMCN"},{"s":21880,"p":5.25e-7,"g":"GCMCN"},{"s":30900,"p":5.25e-7,"g":"GCMCN"},
{"s":4,"p":3.6e-2,"g":"CGSVMCN"},
{"s":5,"p":2.75e-2,"g":"CGSVMCN"},{"s":6,"p":2.51e-2,"g":"CGSVMCN"},{"s":7,"p":2.34e-2,"g":"CGSVMCN"},{"s":8,"p":2.19e-2,"g":"CGSVMCN"},{"s":9,"p":2.04e-2,"g":"CGSVMCN"},{"s":10,"p":1.91e-2,"g":"CGSVMCN"},{"s":11,"p":1.78e-2,"g":"CGSVMCN"},{"s":13,"p":1.62e-2,"g":"CGSVMCN"},{"s":14,"p":1.51e-2,"g":"CGSVMCN"},{"s":16,"p":1.38e-2,"g":"CGSVMCN"},{"s":18,"p":1.26e-2,"g":"CGSVMCN"},{"s":20,"p":1.15e-2,"g":"CGSVMCN"},{"s":22,"p":1.05e-2,"g":"CGSVMCN"},{"s":25,"p":9.55e-3,"g":"CGSVMCN"},{"s":28,"p":8.71e-3,"g":"CGSVMCN"},{"s":32,"p":7.94e-3,"g":"CGSVMCN"},{"s":35,"p":7.24e-3,"g":"CGSVMCN"},{"s":40,"p":6.61e-3,"g":"CGSVMCN"},{"s":45,"p":6.03e-3,"g":"CGSVMCN"},{"s":50,"p":5.37e-3,"g":"CGSVMCN"},{"s":56,"p":4.79e-3,"g":"CGSVMCN"},{"s":63,"p":4.27e-3,"g":"CGSVMCN"},{"s":71,"p":3.80e-3,"g":"CGSVMCN"},{"s":79,"p":3.39e-3,"g":"CGSVMCN"},{"s":89,"p":3.02e-3,"g":"CGSVMCN"},{"s":100,"p":2.63e-3,"g":"CGSVMCN"},{"s":112,"p":2.29e-3,"g":"CGSVMCN"},{"s":126,"p":2.00e-3,"g":"CGSVMCN"},{"s":141,"p":1.70e-3,"g":"CGSVMCN"},{"s":158,"p":1.41e-3,"g":"CGSVMCN"},{"s":178,"p":1.12e-3,"g":"CGSVMCN"},{"s":200,"p":8.91e-4,"g":"CGSVMCN"},{"s":224,"p":6.92e-4,"g":"CGSVMCN"},{"s":251,"p":5.25e-4,"g":"CGSVMCN"},{"s":282,"p":3.89e-4,"g":"CGSVMCN"},{"s":316,"p":2.82e-4,"g":"CGSVMCN"},{"s":355,"p":2.00e-4,"g":"CGSVMCN"},{"s":398,"p":1.41e-4,"g":"CGSVMCN"},{"s":447,"p":9.77e-5,"g":"CGSVMCN"},{"s":501,"p":6.61e-5,"g":"CGSVMCN"},{"s":562,"p":4.37e-5,"g":"CGSVMCN"},{"s":631,"p":2.82e-5,"g":"CGSVMCN"},{"s":708,"p":1.78e-5,"g":"CGSVMCN"},{"s":794,"p":1.12e-5,"g":"CGSVMCN"},{"s":891,"p":7.08e-6,"g":"CGSVMCN"},{"s":1000,"p":4.47e-6,"g":"CGSVMCN"},
{"s":10,"p":2.34e-2,"g":"CGSVMCN"},{"s":11,"p":2.19e-2,"g":"CGSVMCN"},{"s":13,"p":2.04e-2,"g":"CGSVMCN"},{"s":14,"p":1.91e-2,"g":"CGSVMCN"},{"s":16,"p":1.78e-2,"g":"CGSVMCN"},{"s":18,"p":1.62e-2,"g":"CGSVMCN"},{"s":20,"p":1.51e-2,"g":"CGSVMCN"},{"s":22,"p":1.38e-2,"g":"CGSVMCN"},{"s":25,"p":1.26e-2,"g":"CGSVMCN"},{"s":28,"p":1.15e-2,"g":"CGSVMCN"},{"s":32,"p":1.05e-2,"g":"CGSVMCN"},{"s":35,"p":9.55e-3,"g":"CGSVMCN"},{"s":40,"p":8.71e-3,"g":"CGSVMCN"},{"s":45,"p":7.94e-3,"g":"CGSVMCN"},{"s":50,"p":7.24e-3,"g":"CGSVMCN"},{"s":56,"p":6.61e-3,"g":"CGSVMCN"},{"s":63,"p":6.03e-3,"g":"CGSVMCN"},{"s":71,"p":5.37e-3,"g":"CGSVMCN"},{"s":79,"p":4.79e-3,"g":"CGSVMCN"},{"s":89,"p":4.27e-3,"g":"CGSVMCN"},{"s":100,"p":3.80e-3,"g":"CGSVMCN"},{"s":112,"p":3.39e-3,"g":"CGSVMCN"},{"s":126,"p":3.02e-3,"g":"CGSVMCN"},{"s":141,"p":2.63e-3,"g":"CGSVMCN"},{"s":158,"p":2.29e-3,"g":"CGSVMCN"},{"s":178,"p":2.00e-3,"g":"CGSVMCN"},
{"s":10,"p":1.51e-2,"g":"CGSVMCN"},{"s":11,"p":1.38e-2,"g":"CGSVMCN"},{"s":13,"p":1.26e-2,"g":"CGSVMCN"},{"s":14,"p":1.15e-2,"g":"CGSVMCN"},{"s":16,"p":1.05e-2,"g":"CGSVMCN"},{"s":18,"p":9.55e-3,"g":"CGSVMCN"},{"s":20,"p":8.71e-3,"g":"CGSVMCN"},{"s":22,"p":7.94e-3,"g":"CGSVMCN"},{"s":25,"p":7.24e-3,"g":"CGSVMCN"},{"s":28,"p":6.61e-3,"g":"CGSVMCN"},{"s":32,"p":6.03e-3,"g":"CGSVMCN"},{"s":35,"p":5.37e-3,"g":"CGSVMCN"},{"s":40,"p":4.79e-3,"g":"CGSVMCN"},{"s":45,"p":4.27e-3,"g":"CGSVMCN"},{"s":50,"p":3.80e-3,"g":"CGSVMCN"},{"s":56,"p":3.39e-3,"g":"CGSVMCN"},{"s":63,"p":3.02e-3,"g":"CGSVMCN"},{"s":71,"p":2.63e-3,"g":"CGSVMCN"},{"s":79,"p":2.29e-3,"g":"CGSVMCN"},{"s":89,"p":2.00e-3,"g":"CGSVMCN"},{"s":100,"p":1.70e-3,"g":"CGSVMCN"},{"s":112,"p":1.41e-3,"g":"CGSVMCN"},{"s":126,"p":1.12e-3,"g":"CGSVMCN"},{"s":141,"p":8.91e-4,"g":"CGSVMCN"},{"s":158,"p":6.92e-4,"g":"CGSVMCN"},{"s":178,"p":5.25e-4,"g":"CGSVMCN"},
{"s":200,"p":1.12e-3,"g":"CGSVMCN"},{"s":224,"p":8.91e-4,"g":"CGSVMCN"},{"s":251,"p":6.92e-4,"g":"CGSVMCN"},{"s":282,"p":5.25e-4,"g":"CGSVMCN"},{"s":316,"p":3.89e-4,"g":"CGSVMCN"},{"s":355,"p":2.82e-4,"g":"CGSVMCN"},{"s":398,"p":2.00e-4,"g":"CGSVMCN"},{"s":447,"p":1.41e-4,"g":"CGSVMCN"},{"s":501,"p":9.77e-5,"g":"CGSVMCN"},{"s":562,"p":6.61e-5,"g":"CGSVMCN"},{"s":631,"p":4.37e-5,"g":"CGSVMCN"},{"s":708,"p":2.82e-5,"g":"CGSVMCN"},{"s":794,"p":1.78e-5,"g":"CGSVMCN"},{"s":891,"p":1.12e-5,"g":"CGSVMCN"},
{"s":200,"p":6.92e-4,"g":"CGSVMCN"},{"s":224,"p":5.25e-4,"g":"CGSVMCN"},{"s":251,"p":3.89e-4,"g":"CGSVMCN"},{"s":282,"p":2.82e-4,"g":"CGSVMCN"},{"s":316,"p":2.00e-4,"g":"CGSVMCN"},{"s":355,"p":1.41e-4,"g":"CGSVMCN"},{"s":398,"p":9.77e-5,"g":"CGSVMCN"},{"s":447,"p":6.61e-5,"g":"CGSVMCN"},{"s":501,"p":4.37e-5,"g":"CGSVMCN"},{"s":562,"p":2.82e-5,"g":"CGSVMCN"},{"s":631,"p":1.78e-5,"g":"CGSVMCN"},{"s":708,"p":1.12e-5,"g":"CGSVMCN"},{"s":794,"p":7.08e-6,"g":"CGSVMCN"},{"s":891,"p":4.47e-6,"g":"CGSVMCN"},
{"s":603,"p":7.4e-6,"g":"CGSVMCN"},{"s":724,"p":7.4e-6,"g":"CGSVMCN"},{"s":871,"p":7.4e-6,"g":"CGSVMCN"},{"s":1000,"p":7.4e-6,"g":"CGSVMCN"},
{"s":631,"p":5.6e-6,"g":"CGSVMCN"},{"s":759,"p":5.6e-6,"g":"CGSVMCN"},{"s":912,"p":5.6e-6,"g":"CGSVMCN"},{"s":1096,"p":5.6e-6,"g":"CGSVMCN"},{"s":1259,"p":5.6e-6,"g":"CGSVMCN"},
{"s":676,"p":3.72e-6,"g":"CGSVMCN"},{"s":813,"p":3.72e-6,"g":"CGSVMCN"},{"s":977,"p":3.72e-6,"g":"CGSVMCN"},{"s":1175,"p":3.72e-6,"g":"CGSVMCN"},{"s":1413,"p":3.72e-6,"g":"CGSVMCN"},{"s":1698,"p":3.72e-6,"g":"CGSVMCN"},{"s":2042,"p":3.72e-6,"g":"CGSVMCN"},{"s":2455,"p":3.72e-6,"g":"CGSVMCN"},{"s":2818,"p":3.72e-6,"g":"CGSVMCN"},
{"s":759,"p":1.86e-6,"g":"CGSVMCN"},{"s":912,"p":1.86e-6,"g":"CGSVMCN"},{"s":1096,"p":1.86e-6,"g":"CGSVMCN"},{"s":1318,"p":1.86e-6,"g":"CGSVMCN"},{"s":1585,"p":1.86e-6,"g":"CGSVMCN"},{"s":1905,"p":1.86e-6,"g":"CGSVMCN"},{"s":2291,"p":1.86e-6,"g":"CGSVMCN"},{"s":2754,"p":1.86e-6,"g":"CGSVMCN"},{"s":3311,"p":1.86e-6,"g":"CGSVMCN"},{"s":3981,"p":1.86e-6,"g":"CGSVMCN"},{"s":4786,"p":1.86e-6,"g":"CGSVMCN"},{"s":5754,"p":1.86e-6,"g":"CGSVMCN"},{"s":6918,"p":1.86e-6,"g":"CGSVMCN"},{"s":8318,"p":1.86e-6,"g":"CGSVMCN"},{"s":9120,"p":1.86e-6,"g":"CGSVMCN"}
],
"fb": [
{"s":1,"p":0.1,"f":"A"},{"s":3.16,"p":3.80e-2,"f":"A"},{"s":10,"p":1.41e-2,"f":"A"},{"s":31.6,"p":4.79e-3,"f":"A"},{"s":100,"p":1.41e-3,"f":"A"},{"s":174,"p":8.13e-4,"f":"A"},{"s":251,"p":3.55e-4,"f":"A"},{"s":389,"p":1.15e-4,"f":"A"},{"s":575,"p":2.82e-5,"f":"A"},{"s":759,"p":1.0e-5,"f":"A"},{"s":1000,"p":2.82e-6,"f":"A"},{"s":1202,"p":1.10e-6,"f":"A"},{"s":1585,"p":1.20e-7,"f":"A"},{"s":1660,"p":7.9e-8,"f":"A"},
{"s":1,"p":0.1,"f":"B"},{"s":3.16,"p":3.80e-2,"f":"B"},{"s":10,"p":1.48e-2,"f":"B"},{"s":31.6,"p":5.25e-3,"f":"B"},{"s":100,"p":1.58e-3,"f":"B"},{"s":200,"p":7.08e-4,"f":"B"},{"s":398,"p":2.51e-4,"f":"B"},{"s":631,"p":1.12e-4,"f":"B"},{"s":871,"p":6.31e-5,"f":"B"},{"s":1479,"p":1.26e-5,"f":"B"},{"s":2188,"p":2.29e-6,"f":"B"},{"s":2884,"p":5.25e-7,"f":"B"},{"s":3548,"p":1.20e-7,"f":"B"},{"s":3715,"p":7.9e-8,"f":"B"}
],
"c": [
{"s":2.29,"p":1.0e-5,"g":"out, GCDCN"},{"s":3.47,"p":7.94e-5,"g":"out, GCDCN"},{"s":5.13,"p":5.01e-5,"g":"out, GCDCN"},{"s":7.76,"p":1.12e-4,"g":"out, GCDCN"},{"s":11.5,"p":2.00e-4,"g":"out, GCDCN"},{"s":17.4,"p":4.27e-4,"g":"out, GCDCN"},{"s":26.3,"p":1.0e-3,"g":"out, GCDCN"},{"s":38.9,"p":2.09e-3,"g":"out, GCDCN"},{"s":58.9,"p":1.48e-3,"g":"out, GCDCN"},{"s":89.1,"p":1.05e-3,"g":"out, GCDCN"},{"s":132,"p":7.41e-4,"g":"out, GCDCN"},{"s":200,"p":5.25e-4,"g":"out, GCDCN"},{"s":302,"p":3.72e-4,"g":"out, GCDCN"},{"s":447,"p":2.63e-4,"g":"out, GCDCN"},{"s":676,"p":1.82e-4,"g":"out, GCDCN"},{"s":1000,"p":1.26e-4,"g":"out, GCDCN"},{"s":1514,"p":8.71e-5,"g":"out, GCDCN"},{"s":2291,"p":5.89e-5,"g":"out, GCDCN"},{"s":3388,"p":3.89e-5,"g":"out, GCDCN"},{"s":5129,"p":2.51e-5,"g":"out, GCDCN"},{"s":7762,"p":1.58e-5,"g":"out, GCDCN"},{"s":11482,"p":9.55e-6,"g":"out, GCDCN"},{"s":17378,"p":5.25e-6,"g":"out, GCDCN"},{"s":25704,"p":1.86e-6,"g":"out, GCDCN"},{"s":38905,"p":6.61e-7,"g":"out, GCDCN"},{"s":58884,"p":2.34e-7,"g":"out, GCDCN"},{"s":87096,"p":7.41e-8,"g":"out, GCDCN"},{"s":131826,"p":2.09e-8,"g":"out, GCDCN"},{"s":199526,"p":4.17e-9,"g":"out, GCDCN"},{"s":295121,"p":8.32e-10,"g":"out, GCDCN"},{"s":446684,"p":1.48e-10,"g":"out, GCDCN"},{"s":660693,"p":2.82e-11,"g":"out, GCDCN"},{"s":1000000,"p":1.0e-11,"g":"out, GCDCN"},{"s":1318257,"p":2.82e-12,"g":"out, GCDCN"},
{"s":2.29,"p":9.55e-6,"g":"in, GCDCN"},{"s":3.47,"p":5.01e-5,"g":"in, GCDCN"},{"s":5.13,"p":3.55e-5,"g":"in, GCDCN"},{"s":7.76,"p":7.94e-5,"g":"in, GCDCN"},{"s":11.5,"p":1.78e-4,"g":"in, GCDCN"},{"s":17.4,"p":3.98e-4,"g":"in, GCDCN"},{"s":26.3,"p":9.55e-4,"g":"in, GCDCN"},{"s":38.9,"p":1.78e-3,"g":"in, GCDCN"},{"s":58.9,"p":1.38e-3,"g":"in, GCDCN"},{"s":89.1,"p":9.77e-4,"g":"in, GCDCN"},{"s":132,"p":6.92e-4,"g":"in, GCDCN"},{"s":200,"p":4.90e-4,"g":"in, GCDCN"},{"s":302,"p":3.47e-4,"g":"in, GCDCN"},{"s":447,"p":2.45e-4,"g":"in, GCDCN"},{"s":676,"p":1.70e-4,"g":"in, GCDCN"},{"s":1000,"p":1.17e-4,"g":"in, GCDCN"},{"s":1514,"p":8.13e-5,"g":"in, GCDCN"},{"s":2291,"p":5.50e-5,"g":"in, GCDCN"},{"s":3388,"p":3.63e-5,"g":"in, GCDCN"},{"s":5129,"p":2.34e-5,"g":"in, GCDCN"},{"s":7762,"p":1.48e-5,"g":"in, GCDCN"},{"s":11482,"p":8.91e-6,"g":"in, GCDCN"},{"s":17378,"p":4.79e-6,"g":"in, GCDCN"},{"s":25704,"p":1.74e-6,"g":"in, GCDCN"},{"s":38905,"p":6.31e-7,"g":"in, GCDCN"},{"s":58884,"p":2.19e-7,"g":"in, GCDCN"},{"s":87096,"p":6.31e-8,"g":"in, GCDCN"},{"s":131826,"p":1.78e-8,"g":"in, GCDCN"},{"s":199526,"p":3.55e-9,"g":"in, GCDCN"},{"s":295121,"p":7.08e-10,"g":"in, GCDCN"},{"s":446684,"p":1.32e-10,"g":"in, GCDCN"},{"s":660693,"p":2.40e-11,"g":"in, GCDCN"},{"s":1000000,"p":7.94e-12,"g":"in, GCDCN"},{"s":1318257,"p":2.82e-12,"g":"in, GCDCN"},{"s":1659587,"p":5.50e-13,"g":"in, GCDCN"},{"s":5495409,"p":1.58e-13,"g":"in, GCDCN"},
{"s":2.29,"p":4.17e-6,"g":"out, GCSVDCN"},{"s":3.47,"p":3.55e-5,"g":"out, GCSVDCN"},{"s":5.13,"p":1.78e-5,"g":"out, GCSVDCN"},{"s":7.76,"p":3.55e-5,"g":"out, GCSVDCN"},{"s":11.5,"p":5.75e-5,"g":"out, GCSVDCN"},{"s":17.4,"p":1.32e-4,"g":"out, GCSVDCN"},{"s":26.3,"p":3.16e-4,"g":"out, GCSVDCN"},{"s":38.9,"p":6.31e-4,"g":"out, GCSVDCN"},{"s":58.9,"p":9.55e-4,"g":"out, GCSVDCN"},{"s":89.1,"p":1.10e-3,"g":"out, GCSVDCN"},{"s":132,"p":8.71e-4,"g":"out, GCSVDCN"},{"s":200,"p":6.03e-4,"g":"out, GCSVDCN"},{"s":302,"p":3.98e-4,"g":"out, GCSVDCN"},{"s":447,"p":2.63e-4,"g":"out, GCSVDCN"},{"s":676,"p":1.70e-4,"g":"out, GCSVDCN"},{"s":1000,"p":1.10e-4,"g":"out, GCSVDCN"},{"s":1514,"p":6.76e-5,"g":"out, GCSVDCN"},{"s":2291,"p":3.72e-5,"g":"out, GCSVDCN"},{"s":3388,"p":1.91e-5,"g":"out, GCSVDCN"},{"s":5129,"p":9.55e-6,"g":"out, GCSVDCN"},{"s":7762,"p":3.98e-6,"g":"out, GCSVDCN"},{"s":11482,"p":1.66e-6,"g":"out, GCSVDCN"},{"s":17378,"p":7.08e-7,"g":"out, GCSVDCN"},{"s":25704,"p":2.82e-7,"g":"out, GCSVDCN"},{"s":38905,"p":7.94e-8,"g":"out, GCSVDCN"},{"s":58884,"p":1.91e-8,"g":"out, GCSVDCN"},{"s":87096,"p":5.62e-9,"g":"out, GCSVDCN"},{"s":131826,"p":1.78e-9,"g":"out, GCSVDCN"},{"s":199526,"p":4.47e-10,"g":"out, GCSVDCN"},{"s":295121,"p":1.0e-10,"g":"out, GCSVDCN"},{"s":398107,"p":1.41e-11,"g":"out, GCSVDCN"},{"s":776247,"p":3.55e-12,"g":"out, GCSVDCN"},{"s":5495409,"p":6.03e-13,"g":"out, GCSVDCN"},
{"s":2.29,"p":3.98e-6,"g":"in, GCSVDCN"},{"s":3.47,"p":2.82e-5,"g":"in, GCSVDCN"},{"s":5.13,"p":1.41e-5,"g":"in, GCSVDCN"},{"s":7.76,"p":2.82e-5,"g":"in, GCSVDCN"},{"s":11.5,"p":5.75e-5,"g":"in, GCSVDCN"},{"s":17.4,"p":1.32e-4,"g":"in, GCSVDCN"},{"s":26.3,"p":3.16e-4,"g":"in, GCSVDCN"},{"s":38.9,"p":6.31e-4,"g":"in, GCSVDCN"},{"s":58.9,"p":9.55e-4,"g":"in, GCSVDCN"},{"s":89.1,"p":1.10e-3,"g":"in, GCSVDCN"},{"s":132,"p":8.71e-4,"g":"in, GCSVDCN"},{"s":200,"p":6.03e-4,"g":"in, GCSVDCN"},{"s":302,"p":3.98e-4,"g":"in, GCSVDCN"},{"s":447,"p":2.63e-4,"g":"in, GCSVDCN"},{"s":676,"p":1.70e-4,"g":"in, GCSVDCN"},{"s":1000,"p":1.10e-4,"g":"in, GCSVDCN"},{"s":1514,"p":6.76e-5,"g":"in, GCSVDCN"},{"s":2291,"p":3.72e-5,"g":"in, GCSVDCN"},{"s":3388,"p":1.91e-5,"g":"in, GCSVDCN"},{"s":5129,"p":9.55e-6,"g":"in, GCSVDCN"},{"s":7762,"p":3.98e-6,"g":"in, GCSVDCN"},{"s":11482,"p":1.66e-6,"g":"in, GCSVDCN"},{"s":17378,"p":7.08e-7,"g":"in, GCSVDCN"},{"s":25704,"p":2.82e-7,"g":"in, GCSVDCN"},{"s":38905,"p":7.94e-8,"g":"in, GCSVDCN"},{"s":58884,"p":1.91e-8,"g":"in, GCSVDCN"},{"s":87096,"p":5.62e-9,"g":"in, GCSVDCN"},{"s":131826,"p":1.78e-9,"g":"in, GCSVDCN"},{"s":199526,"p":4.47e-10,"g":"in, GCSVDCN"},{"s":295121,"p":1.0e-10,"g":"in, GCSVDCN"},{"s":446684,"p":1.26e-11,"g":"in, GCSVDCN"},{"s":776247,"p":3.55e-12,"g":"in, GCSVDCN"},{"s":1047129,"p":3.16e-12,"g":"in, GCSVDCN"},{"s":5495409,"p":6.03e-13,"g":"in, GCSVDCN"}
],
"d": [
{"s":11.7,"p":1.23e-7,"g":"GCMCN"},{"s":15.1,"p":5.37e-7,"g":"GCMCN"},{"s":20.0,"p":1.62e-6,"g":"GCMCN"},{"s":24.5,"p":5.01e-6,"g":"GCMCN"},{"s":30.9,"p":1.20e-5,"g":"GCMCN"},{"s":38.9,"p":4.07e-5,"g":"GCMCN"},{"s":47.9,"p":8.91e-5,"g":"GCMCN"},{"s":60.3,"p":1.58e-4,"g":"GCMCN"},{"s":75.9,"p":2.69e-4,"g":"GCMCN"},{"s":97.7,"p":3.72e-4,"g":"GCMCN"},{"s":126,"p":4.27e-4,"g":"GCMCN"},{"s":158,"p":4.27e-4,"g":"GCMCN"},{"s":200,"p":3.98e-4,"g":"GCMCN"},{"s":251,"p":3.55e-4,"g":"GCMCN"},{"s":316,"p":3.09e-4,"g":"GCMCN"},{"s":398,"p":2.63e-4,"g":"GCMCN"},{"s":501,"p":2.24e-4,"g":"GCMCN"},{"s":631,"p":1.86e-4,"g":"GCMCN"},{"s":794,"p":1.55e-4,"g":"GCMCN"},{"s":1000,"p":1.26e-4,"g":"GCMCN"},{"s":1259,"p":1.0e-4,"g":"GCMCN"},{"s":1585,"p":7.94e-5,"g":"GCMCN"},{"s":1995,"p":6.31e-5,"g":"GCMCN"},{"s":2512,"p":5.01e-5,"g":"GCMCN"},{"s":3162,"p":3.98e-5,"g":"GCMCN"},{"s":3981,"p":3.16e-5,"g":"GCMCN"},{"s":5012,"p":2.51e-5,"g":"GCMCN"},{"s":6310,"p":2.00e-5,"g":"GCMCN"},{"s":7943,"p":1.58e-5,"g":"GCMCN"},{"s":10000,"p":1.32e-5,"g":"GCMCN"},{"s":12589,"p":1.10e-5,"g":"GCMCN"},{"s":15849,"p":8.91e-6,"g":"GCMCN"},{"s":19953,"p":6.76e-6,"g":"GCMCN"},{"s":25119,"p":4.47e-6,"g":"GCMCN"},{"s":31623,"p":2.57e-6,"g":"GCMCN"},{"s":39811,"p":1.62e-6,"g":"GCMCN"},{"s":51286,"p":1.05e-6,"g":"GCMCN"},{"s":69183,"p":5.89e-7,"g":"GCMCN"},{"s":83176,"p":3.16e-7,"g":"GCMCN"},{"s":102329,"p":1.62e-7,"g":"GCMCN"},{"s":128825,"p":8.32e-8,"g":"GCMCN"},{"s":162181,"p":4.07e-8,"g":"GCMCN"},{"s":208930,"p":1.66e-8,"g":"GCMCN"},{"s":263027,"p":6.92e-9,"g":"GCMCN"},{"s":323594,"p":2.82e-9,"g":"GCMCN"},{"s":407380,"p":1.07e-9,"g":"GCMCN"},{"s":501187,"p":3.98e-10,"g":"GCMCN"},{"s":676083,"p":1.26e-10,"g":"GCMCN"},{"s":812831,"p":4.68e-11,"g":"GCMCN"},{"s":1023293,"p":2.63e-11,"g":"GCMCN"},{"s":1258925,"p":3.55e-12,"g":"GCMCN"},{"s":1698244,"p":3.55e-12,"g":"GCMCN"},{"s":5128614,"p":5.50e-13,"g":"GCMCN"},
{"s":47.9,"p":3.80e-7,"g":"GCSVMCN"},{"s":60.3,"p":2.24e-6,"g":"GCSVMCN"},{"s":75.9,"p":9.77e-6,"g":"GCSVMCN"},{"s":97.7,"p":4.57e-5,"g":"GCSVMCN"},{"s":126,"p":1.12e-4,"g":"GCSVMCN"},{"s":158,"p":2.19e-4,"g":"GCSVMCN"},{"s":209,"p":3.02e-4,"g":"GCSVMCN"},{"s":263,"p":3.39e-4,"g":"GCSVMCN"},{"s":331,"p":3.39e-4,"g":"GCSVMCN"},{"s":417,"p":3.16e-4,"g":"GCSVMCN"},{"s":525,"p":2.82e-4,"g":"GCSVMCN"},{"s":661,"p":2.51e-4,"g":"GCSVMCN"},{"s":832,"p":2.19e-4,"g":"GCSVMCN"},{"s":1047,"p":1.86e-4,"g":"GCSVMCN"},{"s":1318,"p":1.58e-4,"g":"GCSVMCN"},{"s":1660,"p":1.32e-4,"g":"GCSVMCN"},{"s":2089,"p":1.10e-4,"g":"GCSVMCN"},{"s":2630,"p":8.91e-5,"g":"GCSVMCN"},{"s":3311,"p":7.08e-5,"g":"GCSVMCN"},{"s":4169,"p":5.50e-5,"g":"GCSVMCN"},{"s":5248,"p":4.17e-5,"g":"GCSVMCN"},{"s":6607,"p":3.16e-5,"g":"GCSVMCN"},{"s":8318,"p":2.34e-5,"g":"GCSVMCN"},{"s":10471,"p":1.70e-5,"g":"GCSVMCN"},{"s":12589,"p":1.20e-5,"g":"GCSVMCN"},{"s":15136,"p":8.51e-6,"g":"GCSVMCN"},{"s":19055,"p":5.25e-6,"g":"GCSVMCN"},{"s":24547,"p":3.16e-6,"g":"GCSVMCN"},{"s":30903,"p":2.04e-6,"g":"GCSVMCN"},{"s":39811,"p":1.32e-6,"g":"GCSVMCN"},{"s":50119,"p":5.01e-7,"g":"GCSVMCN"},{"s":63096,"p":1.55e-7,"g":"GCSVMCN"},{"s":79433,"p":7.24e-8,"g":"GCSVMCN"},{"s":100000,"p":2.95e-8,"g":"GCSVMCN"},{"s":128825,"p":1.23e-8,"g":"GCSVMCN"},{"s":162181,"p":4.07e-9,"g":"GCSVMCN"},{"s":199526,"p":2.04e-9,"g":"GCSVMCN"},{"s":263027,"p":6.17e-10,"g":"GCSVMCN"},{"s":316228,"p":1.78e-10,"g":"GCSVMCN"},{"s":407380,"p":1.41e-11,"g":"GCSVMCN"},{"s":512861,"p":4.68e-11,"g":"GCSVMCN"},{"s":660693,"p":9.12e-12,"g":"GCSVMCN"}
]
},
"concat": [
  {"width": 283, "height": 219,
   "title": {"text": "(a)", "dx": -68, "dy": 30},
   "layer": [
    {"data": {"name": "a"},
     "mark": {"type": "point", "filled": true, "opacity": 1, "size": 30, "strokeWidth": 1.2, "clip": true},
     "encoding": {
      "x": {"field": "s", "type": "quantitative", "scale": {"type": "log", "domain": [1, 100000], "nice": false},
            "axis": {"title": "sᴺ", "values": [1,2,3,4,5,6,7,8,9,10,20,30,40,50,60,70,80,90,100,200,300,400,500,600,700,800,900,1000,2000,3000,4000,5000,6000,7000,8000,9000,10000,20000,30000,40000,50000,60000,70000,80000,90000,100000],
                     "labelExpr": "abs(log(datum.value)/LN10 - round(log(datum.value)/LN10)) < 0.01 ? ['10⁰','10¹','10²','10³','10⁴','10⁵','10⁶','10⁷'][round(log(datum.value)/LN10)] : ''"}},
      "y": {"field": "p", "type": "quantitative", "scale": {"type": "log", "domain": [1e-7, 1], "nice": false},
            "axis": {"title": "p(sᴺ)", "values": [1,0.1,0.01,0.001,0.0001,0.00001,0.000001,0.0000001],
                     "labelExpr": "['10⁰','10⁻¹','10⁻²','10⁻³','10⁻⁴','10⁻⁵','10⁻⁶','10⁻⁷'][round(-log(datum.value)/LN10)]"}},
      "shape": {"field": "g", "type": "nominal", "scale": {"domain": ["out, GCDCN","in, GCDCN","out, GCSVDCN","in, GCSVDCN"], "range": ["circle","circle","square","square"]}, "legend": {"orient": "top-right", "offset": 6}},
      "fill": {"field": "g", "type": "nominal", "scale": {"domain": ["out, GCDCN","in, GCDCN","out, GCSVDCN","in, GCSVDCN"], "range": ["transparent","#0a0af5","transparent","#2df02d"]}, "legend": {"orient": "top-right", "offset": 6}},
      "stroke": {"field": "g", "type": "nominal", "scale": {"domain": ["out, GCDCN","in, GCDCN","out, GCSVDCN","in, GCSVDCN"], "range": ["#0a0af5","#0a0af5","#2df02d","#2df02d"]}, "legend": {"orient": "top-right", "offset": 6}}
     }},
    {"data": {"name": "fa"},
     "mark": {"type": "line", "color": "#f01414", "strokeDash": [6, 4], "strokeWidth": 1.6, "clip": true},
     "encoding": {
      "x": {"field": "s", "type": "quantitative", "scale": {"type": "log", "domain": [1, 100000], "nice": false},
            "axis": {"orient": "top", "labels": false, "title": null, "values": [1,2,3,4,5,6,7,8,9,10,20,30,40,50,60,70,80,90,100,200,300,400,500,600,700,800,900,1000,2000,3000,4000,5000,6000,7000,8000,9000,10000,20000,30000,40000,50000,60000,70000,80000,90000,100000]}},
      "y": {"field": "p", "type": "quantitative", "scale": {"type": "log", "domain": [1e-7, 1], "nice": false},
            "axis": {"orient": "right", "labels": false, "title": null, "values": [1,0.1,0.01,0.001,0.0001,0.00001,0.000001,0.0000001]}},
      "detail": {"field": "f", "type": "nominal"}
     }}
   ],
   "resolve": {"axis": {"x": "independent", "y": "independent"}}
  },
  {"width": 282, "height": 219,
   "title": {"text": "(b)", "dx": -68, "dy": 30},
   "layer": [
    {"data": {"name": "b"},
     "mark": {"type": "point", "filled": true, "opacity": 1, "size": 22, "strokeWidth": 1.9, "clip": true},
     "encoding": {
      "x": {"field": "s", "type": "quantitative", "scale": {"type": "log", "domain": [1, 100000], "nice": false},
            "axis": {"title": "sᴺ", "values": [1,2,3,4,5,6,7,8,9,10,20,30,40,50,60,70,80,90,100,200,300,400,500,600,700,800,900,1000,2000,3000,4000,5000,6000,7000,8000,9000,10000,20000,30000,40000,50000,60000,70000,80000,90000,100000],
                     "labelExpr": "abs(log(datum.value)/LN10 - round(log(datum.value)/LN10)) < 0.01 ? ['10⁰','10¹','10²','10³','10⁴','10⁵','10⁶','10⁷'][round(log(datum.value)/LN10)] : ''"}},
      "y": {"field": "p", "type": "quantitative", "scale": {"type": "log", "domain": [1e-7, 1], "nice": false},
            "axis": {"title": "p(sᴺ)", "values": [1,0.1,0.01,0.001,0.0001,0.00001,0.000001,0.0000001],
                     "labelExpr": "['10⁰','10¹','10²','10³','10⁴','10⁵','10⁶','10⁷'][round(-log(datum.value)/LN10)]"}},
      "shape": {"field": "g", "type": "nominal", "scale": {"domain": ["GCMCN","CGSVMCN"], "range": ["circle","square"]}, "legend": {"orient": "top-right", "offset": 4}},
      "fill": {"field": "g", "type": "nominal", "scale": {"domain": ["GCMCN","CGSVMCN"], "range": ["transparent","#2df02d"]}, "legend": {"orient": "top-right", "offset": 4}},
      "stroke": {"field": "g", "type": "nominal", "scale": {"domain": ["GCMCN","CGSVMCN"], "range": ["#0a0af5","#2df02d"]}, "legend": {"orient": "top-right", "offset": 4}}
     }},
    {"data": {"name": "fb"},
     "mark": {"type": "line", "color": "#f01414", "strokeDash": [6, 4], "strokeWidth": 1.6, "clip": true},
     "encoding": {
      "x": {"field": "s", "type": "quantitative", "scale": {"type": "log", "domain": [1, 100000], "nice": false},
            "axis": {"orient": "top", "labels": false, "title": null, "values": [1,2,3,4,5,6,7,8,9,10,20,30,40,50,60,70,80,90,100,200,300,400,500,600,700,800,900,1000,2000,3000,4000,5000,6000,7000,8000,9000,10000,20000,30000,40000,50000,60000,70000,80000,90000,100000]}},
      "y": {"field": "p", "type": "quantitative", "scale": {"type": "log", "domain": [1e-7, 1], "nice": false},
            "axis": {"orient": "right", "labels": false, "title": null, "values": [1,0.1,0.01,0.001,0.0001,0.00001,0.000001,0.0000001]}},
      "detail": {"field": "f", "type": "nominal"}
     }}
   ],
   "resolve": {"axis": {"x": "independent", "y": "independent"}}
  },
  {"width": 282, "height": 207,
   "title": {"text": "(c)", "dx": -69, "dy": 28},
   "layer": [
    {"data": {"name": "c"},
     "transform": [{"filter": {"field": "g", "oneOf": ["out, GCDCN", "in, GCDCN"]}}],
     "mark": {"type": "point", "filled": true, "opacity": 1, "size": 34, "strokeWidth": 1.2, "clip": true},
     "encoding": {
      "x": {"field": "s", "type": "quantitative", "scale": {"type": "log", "domain": [1, 10000000], "nice": false},
            "axis": {"title": "sᴰ", "values": [1,2,3,4,5,6,7,8,9,10,20,30,40,50,60,70,80,90,100,200,300,400,500,600,700,800,900,1000,2000,3000,4000,5000,6000,7000,8000,9000,10000,20000,30000,40000,50000,60000,70000,80000,90000,100000,200000,300000,400000,500000,600000,700000,800000,900000,1000000,2000000,3000000,4000000,5000000,6000000,7000000,8000000,9000000,10000000],
                     "labelExpr": "abs(log(datum.value)/LN10 - round(log(datum.value)/LN10)) < 0.01 ? ['10⁰','10¹','10²','10³','10⁴','10⁵','10⁶','10⁷'][round(log(datum.value)/LN10)] : ''"}},
      "y": {"field": "p", "type": "quantitative", "scale": {"type": "log", "domain": [1e-14, 0.01], "nice": false},
            "axis": {"title": "p(sᴰ)", "values": [0.01,0.0001,0.000001,1e-8,1e-10,1e-12,1e-14],
                     "labelExpr": "['10²','10⁴','10⁶','10','10¹⁰','10¹²','10¹⁴'][round(-log(datum.value)/LN10/2) - 1]"}},
      "shape": {"field": "g", "type": "nominal", "scale": {"domain": ["out, GCDCN","in, GCDCN","out, GCSVDCN","in, GCSVDCN"], "range": ["circle","circle","square","square"]}, "legend": {"orient": "bottom-left", "offset": 1}},
      "fill": {"field": "g", "type": "nominal", "scale": {"domain": ["out, GCDCN","in, GCDCN","out, GCSVDCN","in, GCSVDCN"], "range": ["transparent","#0a0af5","transparent","#2df02d"]}, "legend": {"orient": "bottom-left", "offset": 1}},
      "stroke": {"field": "g", "type": "nominal", "scale": {"domain": ["out, GCDCN","in, GCDCN","out, GCSVDCN","in, GCSVDCN"], "range": ["#0a0af5","#0a0af5","#2df02d","#2df02d"]}, "legend": {"orient": "bottom-left", "offset": 1}}
     }},
    {"data": {"name": "c"},
     "transform": [{"filter": {"field": "g", "oneOf": ["out, GCSVDCN", "in, GCSVDCN"]}}],
     "mark": {"type": "point", "filled": true, "opacity": 1, "size": 30, "strokeWidth": 1.2, "clip": true},
     "encoding": {
      "x": {"field": "s", "type": "quantitative", "scale": {"type": "log", "domain": [1, 10000000], "nice": false},
            "axis": {"orient": "top", "labels": false, "title": null, "values": [1,2,3,4,5,6,7,8,9,10,20,30,40,50,60,70,80,90,100,200,300,400,500,600,700,800,900,1000,2000,3000,4000,5000,6000,7000,8000,9000,10000,20000,30000,40000,50000,60000,70000,80000,90000,100000,200000,300000,400000,500000,600000,700000,800000,900000,1000000,2000000,3000000,4000000,5000000,6000000,7000000,8000000,9000000,10000000]}},
      "y": {"field": "p", "type": "quantitative", "scale": {"type": "log", "domain": [1e-14, 0.01], "nice": false},
            "axis": {"orient": "right", "labels": false, "title": null, "values": [0.01,0.0001,0.000001,1e-8,1e-10,1e-12,1e-14]}},
      "shape": {"field": "g", "type": "nominal", "scale": {"domain": ["out, GCDCN","in, GCDCN","out, GCSVDCN","in, GCSVDCN"], "range": ["circle","circle","square","square"]}, "legend": {"orient": "bottom-left", "offset": 1}},
      "fill": {"field": "g", "type": "nominal", "scale": {"domain": ["out, GCDCN","in, GCDCN","out, GCSVDCN","in, GCSVDCN"], "range": ["transparent","#0a0af5","transparent","#2df02d"]}, "legend": {"orient": "bottom-left", "offset": 1}},
      "stroke": {"field": "g", "type": "nominal", "scale": {"domain": ["out, GCDCN","in, GCDCN","out, GCSVDCN","in, GCSVDCN"], "range": ["#0a0af5","#0a0af5","#2df02d","#2df02d"]}, "legend": {"orient": "bottom-left", "offset": 1}}
     }}
   ],
   "resolve": {"axis": {"x": "independent", "y": "independent"}}
  },
  {"width": 282, "height": 207,
   "title": {"text": "(d)", "dx": -70, "dy": 28},
   "layer": [
    {"data": {"name": "d"},
     "transform": [{"filter": {"field": "g", "equal": "GCMCN"}}],
     "mark": {"type": "point", "filled": true, "opacity": 1, "size": 28, "strokeWidth": 1.3, "clip": true},
     "encoding": {
      "x": {"field": "s", "type": "quantitative", "scale": {"type": "log", "domain": [1, 10000000], "nice": false},
            "axis": {"title": "sᴰ", "values": [1,2,3,4,5,6,7,8,9,10,20,30,40,50,60,70,80,90,100,200,300,400,500,600,700,800,900,1000,2000,3000,4000,5000,6000,7000,8000,9000,10000,20000,30000,40000,50000,60000,70000,80000,90000,100000,200000,300000,400000,500000,600000,700000,800000,900000,1000000,2000000,3000000,4000000,5000000,6000000,7000000,8000000,9000000,10000000],
                     "labelExpr": "abs(log(datum.value)/LN10 - round(log(datum.value)/LN10)) < 0.01 ? ['10⁰','10¹','10²','10³','10⁴','10⁵','10⁶','10⁷'][round(log(datum.value)/LN10)] : ''"}},
      "y": {"field": "p", "type": "quantitative", "scale": {"type": "log", "domain": [1e-14, 0.01], "nice": false},
            "axis": {"title": "p(sᴰ)", "values": [0.01,0.0001,0.000001,1e-8,1e-10,1e-12,1e-14],
                     "labelExpr": "['10²','10⁴','10⁶','10','10¹⁰','10¹²','10¹⁴'][round(-log(datum.value)/LN10/2) - 1]"}},
      "shape": {"field": "g", "type": "nominal", "scale": {"domain": ["GCMCN","GCSVMCN"], "range": ["circle","square"]}, "legend": {"orient": "bottom-left", "offset": 1}},
      "fill": {"field": "g", "type": "nominal", "scale": {"domain": ["GCMCN","GCSVMCN"], "range": ["transparent","#2df02d"]}, "legend": {"orient": "bottom-left", "offset": 1}},
      "stroke": {"field": "g", "type": "nominal", "scale": {"domain": ["GCMCN","GCSVMCN"], "range": ["#0a0af5","#2df02d"]}, "legend": {"orient": "bottom-left", "offset": 1}}
     }},
    {"data": {"name": "d"},
     "transform": [{"filter": {"field": "g", "equal": "GCSVMCN"}}],
     "mark": {"type": "point", "filled": true, "opacity": 1, "size": 30, "strokeWidth": 1.2, "clip": true},
     "encoding": {
      "x": {"field": "s", "type": "quantitative", "scale": {"type": "log", "domain": [1, 10000000], "nice": false},
            "axis": {"orient": "top", "labels": false, "title": null, "values": [1,2,3,4,5,6,7,8,9,10,20,30,40,50,60,70,80,90,100,200,300,400,500,600,700,800,900,1000,2000,3000,4000,5000,6000,7000,8000,9000,10000,20000,30000,40000,50000,60000,70000,80000,90000,100000,200000,300000,400000,500000,600000,700000,800000,900000,1000000,2000000,3000000,4000000,5000000,6000000,7000000,8000000,9000000,10000000]}},
      "y": {"field": "p", "type": "quantitative", "scale": {"type": "log", "domain": [1e-14, 0.01], "nice": false},
            "axis": {"orient": "right", "labels": false, "title": null, "values": [0.01,0.0001,0.000001,1e-8,1e-10,1e-12,1e-14]}},
      "shape": {"field": "g", "type": "nominal", "scale": {"domain": ["GCMCN","GCSVMCN"], "range": ["circle","square"]}, "legend": {"orient": "bottom-left", "offset": 1}},
      "fill": {"field": "g", "type": "nominal", "scale": {"domain": ["GCMCN","GCSVMCN"], "range": ["transparent","#2df02d"]}, "legend": {"orient": "bottom-left", "offset": 1}},
      "stroke": {"field": "g", "type": "nominal", "scale": {"domain": ["GCMCN","GCSVMCN"], "range": ["#0a0af5","#2df02d"]}, "legend": {"orient": "bottom-left", "offset": 1}}
     }}
   ],
   "resolve": {"axis": {"x": "independent", "y": "independent"}}
  }
],
"columns": 2,
"bounds": "flush",
"spacing": {"row": 64, "column": 81},
"resolve": {"scale": {"shape": "independent", "fill": "independent", "stroke": "independent"}}
}
